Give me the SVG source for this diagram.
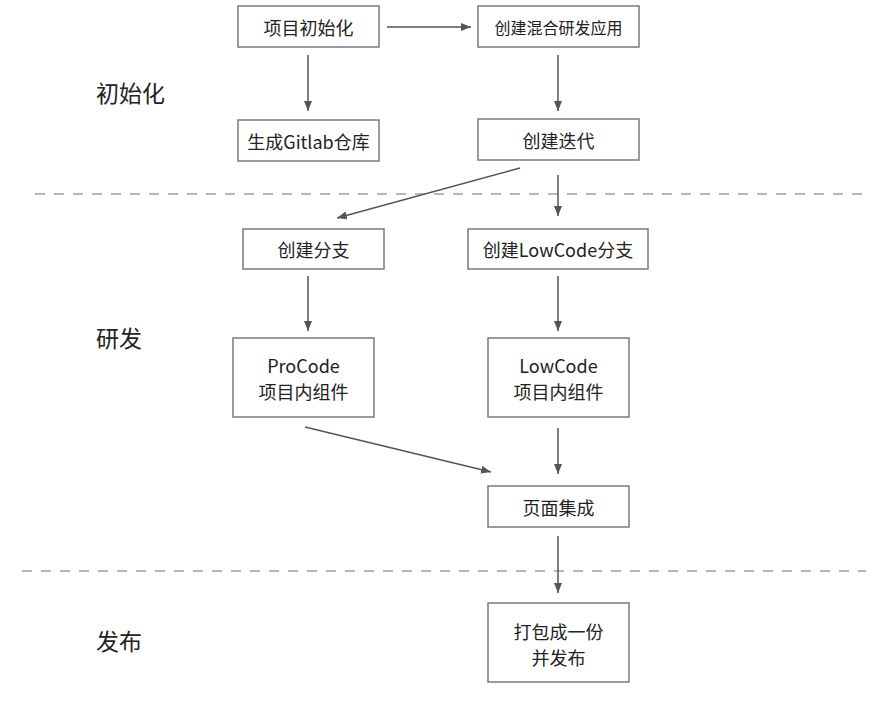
<svg xmlns="http://www.w3.org/2000/svg" width="881" height="706" viewBox="0 0 881 706">
<style>
.box{fill:#fff;stroke:#7a7a7a;stroke-width:1.5}
.t{font-family:"Noto Sans CJK SC","Noto Sans",sans-serif;font-size:18px;fill:#222;text-anchor:middle;dominant-baseline:central}
.s{font-size:16px}
.lab{font-family:"Noto Sans CJK SC","Noto Sans",sans-serif;font-size:23px;fill:#222;dominant-baseline:central}
.c{stroke:#555;stroke-width:1.5;fill:none;marker-end:url(#ah)}
.d{stroke:#a0a0a0;stroke-width:1.5;stroke-dasharray:10 9;fill:none}
</style>
<defs>
<marker id="ah" viewBox="0 0 10 8" refX="10" refY="4" markerWidth="10" markerHeight="8" markerUnits="userSpaceOnUse" orient="auto">
<path d="M0,0 L10,4 L0,8 Z" fill="#555"/>
</marker>
</defs>
<rect width="881" height="706" fill="#fff"/>
<g id="dividers">
<line class="d" x1="35" y1="194" x2="862" y2="194"/>
<line class="d" x1="22" y1="571" x2="866" y2="571"/>
</g>
<g id="labels">
<text class="lab" x="96" y="92">初始化</text>
<text class="lab" x="96" y="337">研发</text>
<text class="lab" x="96" y="640">发布</text>
</g>
<g id="connectors">
<line class="c" x1="387" y1="27" x2="471" y2="27"/>
<line class="c" x1="308" y1="55" x2="308" y2="111"/>
<line class="c" x1="558" y1="55" x2="558" y2="111"/>
<line class="c" x1="520" y1="168" x2="337" y2="218"/>
<line class="c" x1="558" y1="175" x2="558" y2="216"/>
<line class="c" x1="308" y1="276" x2="308" y2="331"/>
<line class="c" x1="558" y1="276" x2="558" y2="331"/>
<line class="c" x1="305" y1="427" x2="491" y2="472"/>
<line class="c" x1="558" y1="428" x2="558" y2="474"/>
<line class="c" x1="558" y1="536" x2="558" y2="593"/>
</g>
<g id="n1"><rect class="box" x="238" y="6" width="141" height="41"/><text class="t" x="308.5" y="26.5">项目初始化</text></g>
<g id="n2"><rect class="box" x="478" y="6" width="161" height="41"/><text class="t s" x="558.5" y="26.5">创建混合研发应用</text></g>
<g id="n3"><rect class="box" x="238" y="120" width="141" height="41"/><text class="t" x="308.5" y="140.5">生成Gitlab仓库</text></g>
<g id="n4"><rect class="box" x="478" y="119" width="161" height="41"/><text class="t" x="558.5" y="139.5">创建迭代</text></g>
<g id="n5"><rect class="box" x="243" y="229" width="141" height="40"/><text class="t" x="313.5" y="249">创建分支</text></g>
<g id="n6"><rect class="box" x="468" y="229" width="180" height="40"/><text class="t" x="558" y="249">创建LowCode分支</text></g>
<g id="n7"><rect class="box" x="233" y="338" width="141" height="79"/><text class="t" x="303.5" y="365">ProCode</text><text class="t" x="303.5" y="391">项目内组件</text></g>
<g id="n8"><rect class="box" x="488" y="338" width="141" height="79"/><text class="t" x="558.5" y="365">LowCode</text><text class="t" x="558.5" y="391">项目内组件</text></g>
<g id="n9"><rect class="box" x="488" y="486" width="141" height="41"/><text class="t" x="558.5" y="506.5">页面集成</text></g>
<g id="n10"><rect class="box" x="488" y="603" width="141" height="79"/><text class="t" x="558.5" y="631">打包成一份</text><text class="t" x="558.5" y="657">并发布</text></g>
</svg>
